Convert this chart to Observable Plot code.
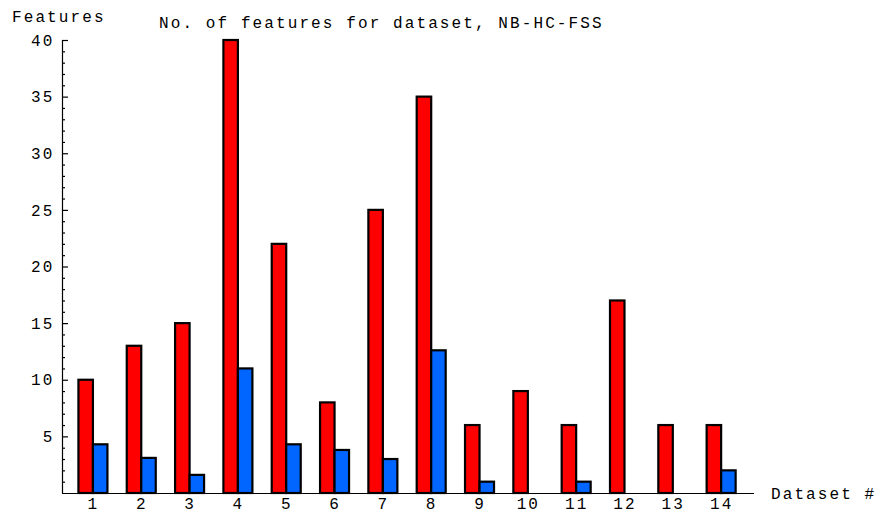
<!DOCTYPE html>
<html><head><meta charset="utf-8">
<script src="https://cdn.jsdelivr.net/npm/d3@7"></script>
<script src="https://cdn.jsdelivr.net/npm/@observablehq/plot@0.6"></script>
<style>
body{margin:0;background:#fff}
#wrap{position:relative;width:881px;height:515px;font-family:"Liberation Mono","Courier New",monospace;font-size:16px;letter-spacing:2.1px;color:#000}
.lbl{position:absolute;line-height:16px;white-space:pre;z-index:2}
#chart{position:absolute;left:0;top:0}
</style></head><body>
<div id="wrap">
<div id="chart"></div>
<div class="lbl" style="left:12px;top:10px">Features</div>
<div class="lbl" style="left:159px;top:16px">No. of features for dataset, NB-HC-FSS</div>
<div class="lbl" style="left:771px;top:487px">Dataset #</div>
</div>
<script>
const datasets = [1,2,3,4,5,6,7,8,9,10,11,12,13,14];
const redValues = [10,13,15,40,22,8,25,35,6,9,6,17,6,6];
const blueValues = [4.3,3.1,1.6,11,4.3,3.8,3.0,12.6,1.0,0,1.0,0,0,2.0];
const yMajorTicks = [5,10,15,20,25,30,35,40];
const yMinorTicks = d3.range(1,40).filter(v => v % 5 !== 0);

const rows = datasets.map((d,i)=>({ds:d, red:redValues[i], blue:blueValues[i]}));
const w = 0.3;
const xDomain = [0.36, 14.68];

const chart = Plot.plot({
  width: 881, height: 515,
  marginLeft: 62, marginRight: 127, marginTop: 40, marginBottom: 22,
  style: {fontFamily: '"Liberation Mono","Courier New",monospace', fontSize: "16px", letterSpacing: "2.1px", background: "white", color: "black"},
  x: {domain: xDomain},
  y: {domain: [0, 40]},
  marks: [
    Plot.rectY(rows, {x1: d => d.ds - w, x2: d => d.ds, y: "red", fill: "#ff0000", stroke: "black", strokeWidth: 2.2}),
    Plot.rectY(rows, {x1: d => d.ds, x2: d => d.ds + w, y: "blue", fill: "#0066ff", stroke: "black", strokeWidth: 2.2}),
    Plot.ruleY([0], {stroke: "black", strokeWidth: 1.2}),
    Plot.ruleX([xDomain[0]], {stroke: "black", strokeWidth: 1.2}),
    Plot.axisY(yMajorTicks, {tickSize: -6, tickPadding: 14, label: null, stroke: "black", strokeWidth: 1.2}),
    Plot.axisY(yMinorTicks, {tickSize: -3, tickFormat: () => "", label: null, stroke: "black", strokeWidth: 1.2}),
    Plot.axisX(datasets, {tickSize: 0, tickPadding: 4, tickFormat: d => String(d), label: null})
  ]
});
document.getElementById("chart").appendChild(chart);
</script>
</body></html>
